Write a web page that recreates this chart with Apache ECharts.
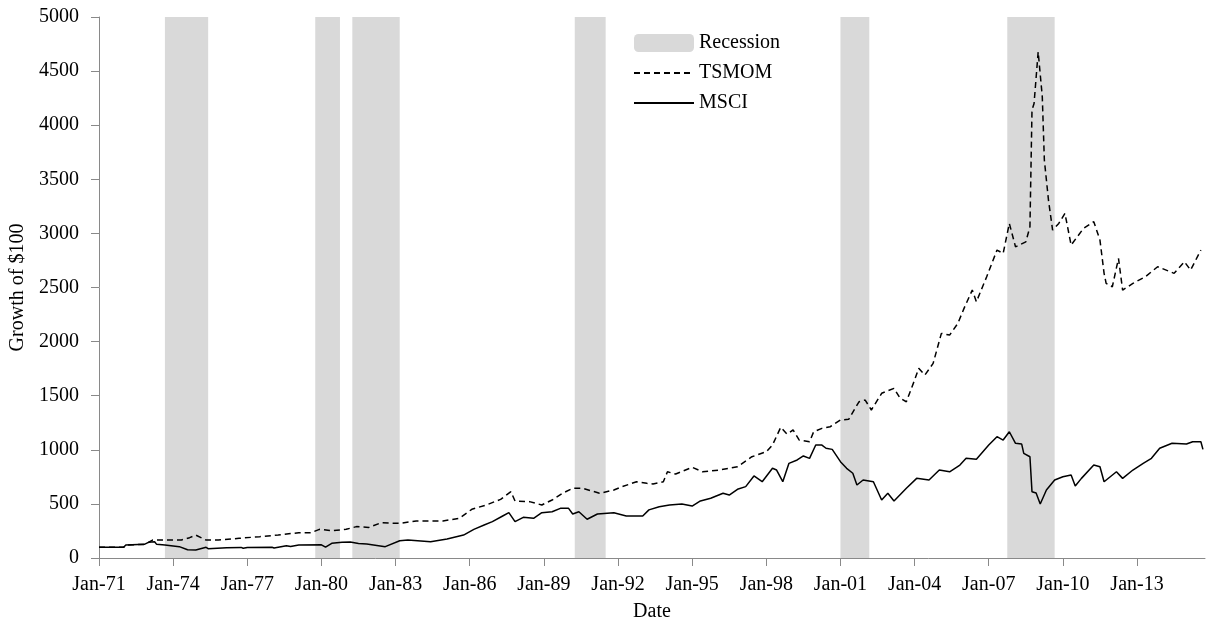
<!DOCTYPE html>
<html><head><meta charset="utf-8">
<script src="https://cdn.jsdelivr.net/npm/echarts@6/dist/echarts.min.js"></script>
<style>html,body{margin:0;padding:0;background:#fff}#c{width:1207px;height:622px}</style>
</head><body><div id="c"></div>
<script>
const msciDates = ['1971-01','1972-01','1972-02','1972-11','1973-01','1973-04','1973-05','1973-09','1974-04','1974-08','1974-12','1975-05','1975-06','1976-03','1976-10','1976-11','1977-01','1978-01','1978-02','1978-08','1978-10','1979-02','1980-01','1980-03','1980-06','1980-11','1981-03','1981-07','1981-11','1982-08','1983-03','1983-07','1984-06','1985-02','1985-10','1986-03','1986-08','1986-12','1987-05','1987-08','1987-11','1988-03','1988-08','1988-12','1989-05','1989-09','1990-01','1990-03','1990-06','1990-10','1991-03','1991-11','1992-05','1993-01','1993-04','1993-09','1994-02','1994-08','1995-01','1995-05','1995-10','1996-04','1996-07','1996-11','1997-03','1997-07','1997-11','1998-04','1998-06','1998-09','1998-12','1999-04','1999-07','1999-10','2000-01','2000-04','2000-06','2000-09','2001-01','2001-04','2001-07','2001-09','2001-12','2002-05','2002-09','2002-12','2003-03','2003-09','2004-02','2004-08','2005-01','2005-06','2005-11','2006-02','2006-07','2007-01','2007-05','2007-08','2007-11','2008-02','2008-05','2008-06','2008-09','2008-10','2008-12','2009-02','2009-05','2009-09','2010-01','2010-05','2010-07','2010-10','2011-04','2011-07','2011-09','2012-03','2012-06','2012-11','2013-04','2013-08','2013-12','2014-06','2015-01','2015-04','2015-08','2015-09'];
const msciValues = [100,100,120,126,145,150,126,120,105,76,74,99,86,95,98,90,98,99,92,114,106,120,122,100,136,145,148,135,129,105,160,166,151,176,212,265,305,336,388,419,336,376,367,419,428,459,459,407,428,358,407,419,388,388,445,474,490,499,480,527,552,598,582,635,660,758,705,829,813,705,875,906,943,921,1044,1044,1014,1004,890,829,783,675,721,705,536,598,527,644,736,721,813,797,859,921,912,1044,1121,1090,1167,1060,1053,967,936,613,600,499,628,721,751,767,665,736,859,844,705,797,736,813,875,921,1014,1060,1053,1075,1075,1004];

const tsmomDates = ['1971-01','1972-01','1972-02','1972-11','1973-01','1973-03','1973-09','1974-05','1974-09','1974-12','1975-05','1975-11','1976-09','1977-07','1978-04','1979-02','1979-08','1979-12','1980-06','1981-01','1981-06','1981-12','1982-06','1983-03','1983-11','1984-12','1985-08','1986-02','1986-09','1987-04','1987-09','1987-11','1988-06','1988-12','1989-05','1989-10','1990-03','1990-08','1991-04','1991-11','1992-03','1992-10','1993-03','1993-06','1993-11','1994-01','1994-05','1995-01','1995-06','1996-02','1996-11','1997-06','1998-01','1998-04','1998-08','1998-11','1999-02','1999-05','1999-10','1999-12','2000-04','2000-08','2001-01','2001-05','2001-10','2002-01','2002-04','2002-09','2003-03','2003-06','2003-09','2004-01','2004-03','2004-06','2004-10','2005-02','2005-06','2005-10','2006-01','2006-05','2006-07','2006-10','2006-12','2007-05','2007-08','2007-11','2008-02','2008-07','2008-09','2008-10','2008-11','2009-01','2009-03','2009-04','2009-06','2009-08','2009-11','2010-02','2010-05','2010-11','2011-04','2011-07','2011-09','2011-10','2012-01','2012-04','2012-06','2012-11','2013-05','2013-11','2014-07','2014-12','2015-03','2015-08'];
const tsmomValues = [100,100,120,126,145,166,166,166,188,212,166,166,182,197,212,234,234,265,253,265,290,283,326,320,342,342,367,450,490,542,613,527,521,490,536,598,644,644,598,628,659,705,690,684,705,797,776,838,797,813,844,936,982,1044,1208,1146,1183,1090,1075,1167,1198,1213,1275,1282,1444,1460,1368,1522,1568,1476,1444,1645,1753,1691,1799,2076,2060,2169,2307,2476,2368,2507,2599,2846,2815,3092,2876,2922,3061,4140,4201,4678,4262,3678,3308,3031,3092,3185,2892,3046,3108,2938,2631,2538,2507,2769,2476,2538,2599,2692,2631,2738,2661,2846];

const recessionStart = ['1973-09','1979-10','1981-04','1990-04','2001-01','2007-10'];
const recessionEnd   = ['1975-06','1980-10','1983-03','1991-07','2002-03','2009-09'];

const xTickDates  = ['1971-01','1974-01','1977-01','1980-01','1983-01','1986-01','1989-01','1992-01','1995-01','1998-01','2001-01','2004-01','2007-01','2010-01','2013-01'];
const xTickLabels = ['Jan-71','Jan-74','Jan-77','Jan-80','Jan-83','Jan-86','Jan-89','Jan-92','Jan-95','Jan-98','Jan-01','Jan-04','Jan-07','Jan-10','Jan-13'];

function monthIndex(s){ const p = s.split('-').map(Number); return (p[0]-1971)*12 + (p[1]-1); }
const pairs = (d, v) => d.map((s, i) => [monthIndex(s), v[i]]);
const tickIdx = xTickDates.map(monthIndex);

const FONT = 'Liberation Serif';
const AXIS_COLOR = '#898989';

const chart = echarts.init(document.getElementById('c'));
chart.setOption({
  animation: false,
  textStyle: { fontFamily: FONT, color: '#000' },
  grid: { left: 99, right: 2, top: 17, bottom: 64, containLabel: false, outerBoundsMode: 'none' },
  legend: {
    orient: 'vertical', left: 628, top: 28, itemWidth: 60, itemHeight: 18, itemGap: 10,
    textStyle: { fontFamily: FONT, fontSize: 20, color: '#000' },
    data: [
      { name: 'Recession', icon: 'roundRect', itemStyle: { color: '#d9d9d9' } },
      { name: 'TSMOM', itemStyle: { opacity: 0 } },
      { name: 'MSCI', itemStyle: { opacity: 0 } }
    ]
  },
  xAxis: {
    type: 'value', min: 0, max: 537, interval: 36,
    name: 'Date', nameLocation: 'middle', nameGap: 44,
    nameTextStyle: { fontFamily: FONT, fontSize: 20, color: '#000' },
    axisLine: { lineStyle: { color: AXIS_COLOR, width: 1 } },
    axisTick: { show: true, length: 8, lineStyle: { color: AXIS_COLOR }, customValues: tickIdx },
    axisLabel: {
      customValues: tickIdx, margin: 17, fontFamily: FONT, fontSize: 20, color: '#000',
      formatter: v => { const k = tickIdx.indexOf(Math.round(v)); return k >= 0 ? xTickLabels[k] : ''; }
    },
    splitLine: { show: false }
  },
  yAxis: {
    type: 'value', min: 0, max: 5000, interval: 500,
    name: 'Growth of $100', nameLocation: 'middle', nameGap: 70, nameRotate: 90,
    nameTextStyle: { fontFamily: FONT, fontSize: 20, color: '#000' },
    axisLine: { show: true, lineStyle: { color: AXIS_COLOR, width: 1 } },
    axisTick: { show: true, length: 8, lineStyle: { color: AXIS_COLOR } },
    axisLabel: { margin: 20, fontFamily: FONT, fontSize: 20, color: '#000', formatter: v => String(v) },
    splitLine: { show: false }
  },
  series: [
    {
      name: 'Recession', type: 'bar', data: [], itemStyle: { color: '#d9d9d9' }, z: 1,
      markArea: {
        silent: true, z: 1,
        itemStyle: { color: '#d9d9d9' },
        data: recessionStart.map((s, i) => [{ xAxis: monthIndex(s) }, { xAxis: monthIndex(recessionEnd[i]) }])
      }
    },
    {
      name: 'TSMOM', type: 'line', data: pairs(tsmomDates, tsmomValues), symbol: 'none', z: 3,
      itemStyle: { color: '#000' },
      lineStyle: { color: '#000', width: 1.5, type: [6, 4] }
    },
    {
      name: 'MSCI', type: 'line', data: pairs(msciDates, msciValues), symbol: 'none', z: 3,
      itemStyle: { color: '#000' },
      lineStyle: { color: '#000', width: 1.5 }
    }
  ]
});
</script></body></html>
